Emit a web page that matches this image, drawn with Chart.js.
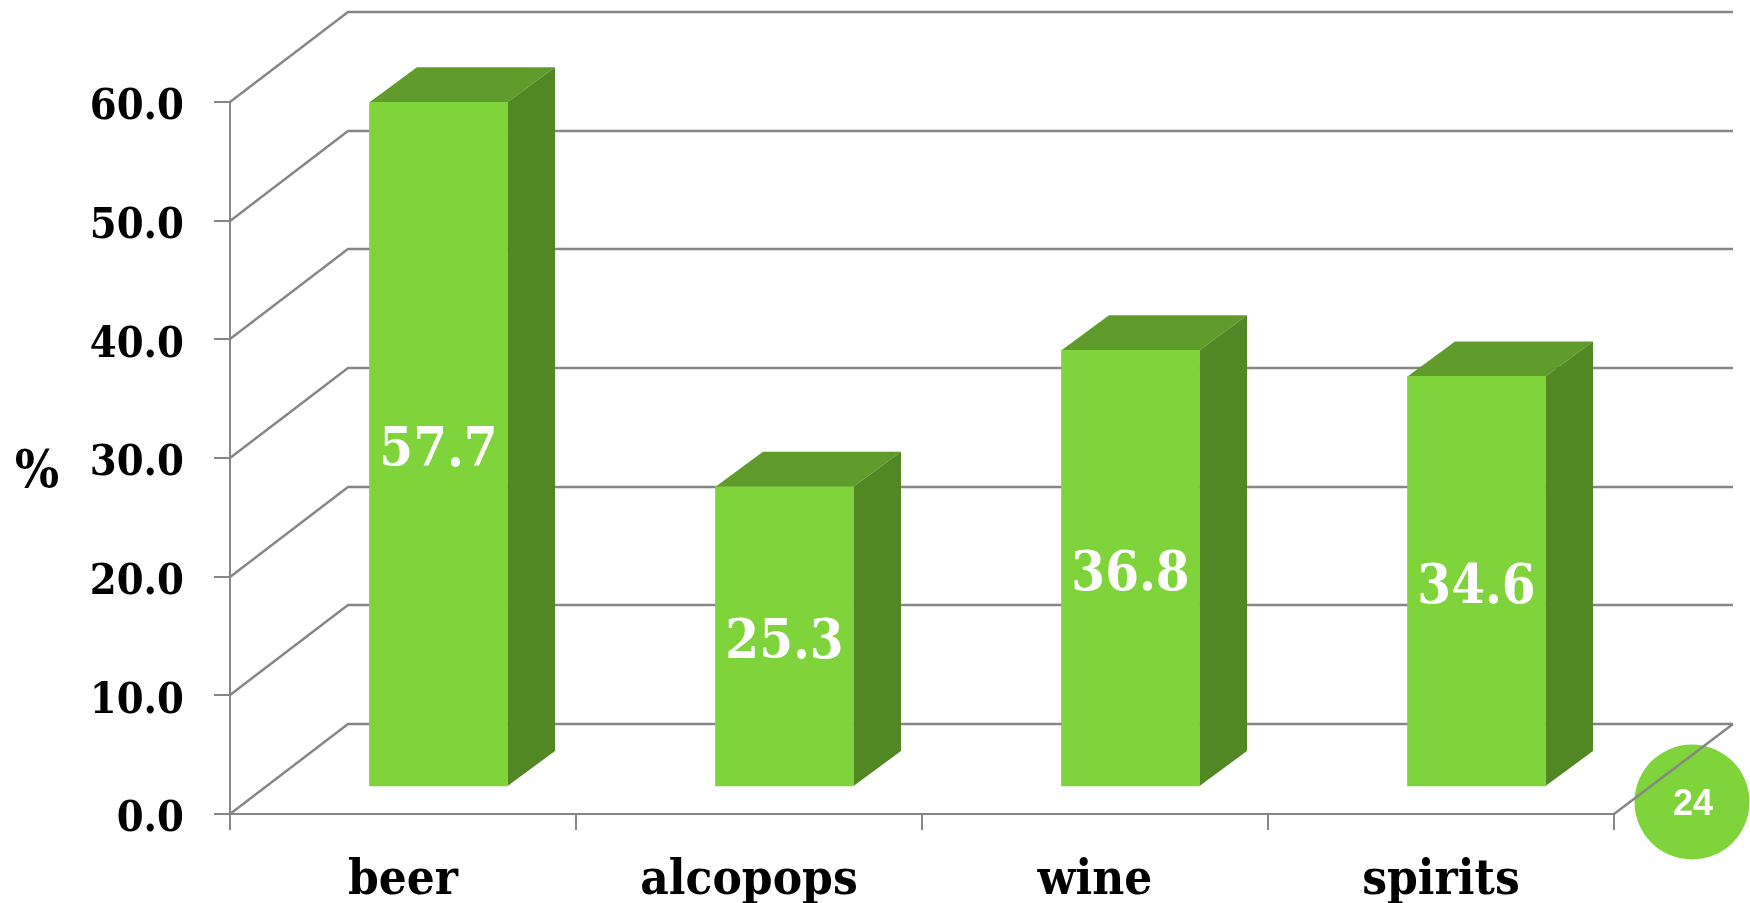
<!DOCTYPE html>
<html>
<head>
<meta charset="utf-8">
<title>chart</title>
<script src="https://cdn.jsdelivr.net/npm/chart.js@4"></script>
<style>
  html, body { margin: 0; padding: 0; background: #fff; overflow: hidden; }
  canvas { display: block; }
</style>
</head>
<body>
<canvas id="myChart" width="1750" height="903"></canvas>
<script>
const categories = ["beer", "alcopops", "wine", "spirits"];
const values = [57.7, 25.3, 36.8, 34.6];
const yMax = 60;
const yStep = 10;
const unitLabel = "%";
const pageNumber = "24";

const GRID = "#868686";
const FRONT = "#7fd33b";
const TOP = "#5f9c2b";
const SIDE = "#528726";
const SERIF = "'DejaVu Serif Condensed', 'DejaVu Serif'";

// depth of the back wall and of the bars
const wallDx = 118, wallDy = 90;
const barDx = 47.5, barDy = 35;
// bars stand a little in front of the back wall
const barShiftX = 35.5, barShiftY = 27;

function poly(c, pts, fill) {
    c.beginPath();
    pts.forEach((p, i) => i ? c.lineTo(p[0], p[1]) : c.moveTo(p[0], p[1]));
    c.closePath();
    c.fillStyle = fill;
    c.fill();
}

const fake3d = {
    id: "fake3d",
    beforeDatasetsDraw(chart) {
        const c = chart.ctx, y = chart.scales.y, area = chart.chartArea;

        // page badge sits under the floor line
        c.beginPath();
        c.arc(1692, 802, 57.5, 0, Math.PI * 2);
        c.fillStyle = FRONT;
        c.fill();

        c.strokeStyle = GRID;
        c.lineWidth = 2.4;
        for (let v = 0; v <= yMax; v += yStep) {
            const py = Math.round(y.getPixelForValue(v));
            c.beginPath();
            c.moveTo(area.left, py);
            c.lineTo(area.left + wallDx, py - wallDy);
            c.lineTo(area.right + wallDx + 1, py - wallDy);
            c.stroke();
        }
        // right edge of the floor
        c.beginPath();
        c.moveTo(area.right, area.bottom);
        c.lineTo(area.right + wallDx + 1, area.bottom - wallDy);
        c.stroke();

        chart.getDatasetMeta(0).data.forEach(bar => {
            const l = bar.x - bar.width / 2 + barShiftX;
            const r = bar.x + bar.width / 2 + barShiftX;
            const t = bar.y - barShiftY;
            const b = bar.base - barShiftY;
            poly(c, [[l, t], [l + barDx, t - barDy], [r + barDx, t - barDy], [r, t]], TOP);
            poly(c, [[r, t], [r + barDx, t - barDy], [r + barDx, b - barDy], [r, b]], SIDE);
        });
    },
    beforeDatasetDraw(chart) {
        chart.ctx.save();
        chart.ctx.translate(barShiftX, -barShiftY);
    },
    afterDatasetDraw(chart) {
        chart.ctx.restore();
    },
    afterDraw(chart) {
        const c = chart.ctx;
        c.save();
        c.textAlign = "center";
        c.textBaseline = "middle";
        c.font = "bold 54px " + SERIF;
        c.fillStyle = "#fff";
        chart.getDatasetMeta(0).data.forEach((bar, i) => {
            const mid = (bar.y + bar.base) / 2 - barShiftY;
            c.fillText(values[i].toFixed(1), bar.x + barShiftX, mid + 8);
        });

        c.font = "bold 52px " + SERIF;
        c.fillStyle = "#000";
        c.fillText(unitLabel, 37, 473);

        c.font = "bold 36px 'Liberation Sans'";
        c.fillStyle = "#fff";
        c.fillText(pageNumber, 1693, 805);
        c.restore();
    }
};

const ctx = document.getElementById("myChart").getContext("2d");
new Chart(ctx, {
    type: "bar",
    data: {
        labels: categories,
        datasets: [{
            data: values,
            backgroundColor: FRONT,
            barThickness: 138,
            borderWidth: 0
        }]
    },
    plugins: [fake3d],
    options: {
        responsive: false,
        animation: false,
        layout: { padding: { left: 0, top: 102, right: 136, bottom: 0 } },
        plugins: { legend: { display: false }, tooltip: { enabled: false } },
        scales: {
            x: {
                afterFit: s => { s.height = 89; },
                border: { color: GRID, width: 2 },
                grid: { color: GRID, lineWidth: 2, drawOnChartArea: false, tickLength: 16 },
                ticks: {
                    color: "#000",
                    padding: 22,
                    autoSkip: false,
                    maxRotation: 0,
                    font: { family: SERIF, weight: "bold", size: 49 }
                }
            },
            y: {
                min: 0,
                max: yMax,
                afterFit: s => { s.width = 230; },
                border: { color: GRID, width: 2 },
                grid: { color: GRID, lineWidth: 2, drawOnChartArea: false, tickLength: 16 },
                ticks: {
                    stepSize: yStep,
                    color: "#000",
                    padding: 30,
                    labelOffset: 6,
                    callback: v => v.toFixed(1),
                    font: { family: SERIF, weight: "bold", size: 43 }
                }
            }
        }
    }
});
</script>
</body>
</html>
